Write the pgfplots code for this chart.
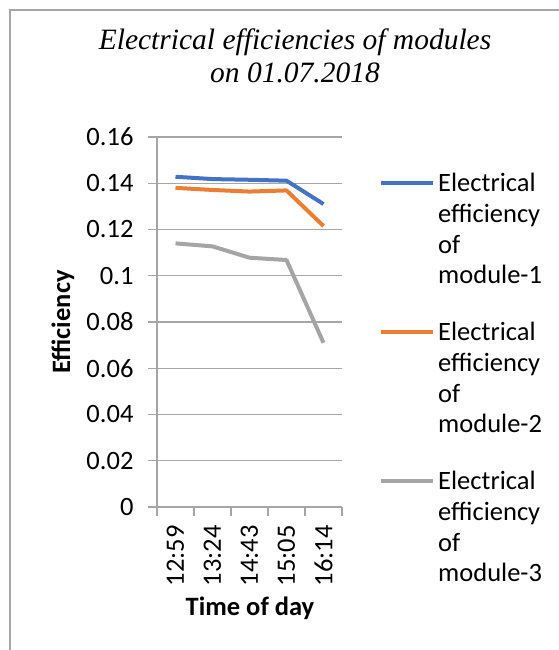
\documentclass[border=0pt]{standalone}
\usepackage{fontspec}
\setmainfont{Carlito}
\newfontfamily\timesfont{Liberation Serif}
\usepackage{pgfplots}
\pgfplotsset{compat=1.18}
\definecolor{s1}{HTML}{4472C4}
\definecolor{s2}{HTML}{ED7D31}
\definecolor{s3}{HTML}{A5A5A5}
\definecolor{gridc}{HTML}{A6A6A6}
\newcommand{\lblfont}{\fontsize{26.5}{30.7}\selectfont}
\begin{document}
\begin{tikzpicture}[x=1pt,y=1pt]
\useasboundingbox (0,0) rectangle (559,650);
\draw[gridc, line width=1.2pt] (10,0) -- (10,640) -- (559,640);
\node[font=\timesfont\itshape\fontsize{29.5}{33}\selectfont, align=center] at (295,594)
  {Electrical efficiencies of modules\\on 01.07.2018};
\begin{axis}[at={(157pt,143pt)}, anchor=south west,
  scale only axis, width=185pt, height=370pt,
  xmin=-0.5, xmax=4.5, ymin=0, ymax=0.16,
  axis x line=bottom, axis y line=left,
  axis line style={draw=gridc, line width=1.3pt, -},
  tick align=outside, major tick length=9pt,
  tick style={draw=gridc, line width=1.3pt},
  ymajorgrids, grid style={draw=gridc, line width=1.3pt},
  ytick={0,0.02,0.04,0.06,0.08,0.1,0.12,0.14,0.16},
  yticklabels={0,0.02,0.04,0.06,0.08,0.1,0.12,0.14,0.16},
  yticklabel style={xshift=-11pt},
  xtick={-0.5,0.5,1.5,2.5,3.5,4.5}, xticklabels={},
  extra x ticks={0,1,2,3,4},
  extra x tick labels={12:59,13:24,14:43,15:05,16:14},
  extra x tick style={major tick length=0pt, grid=none,
    xticklabel style={rotate=90, anchor=east, yshift=0pt, xshift=-15pt}},
  ticklabel style={font=\lblfont, /pgf/number format/assume math mode=true},
  xlabel={Time of day}, ylabel={Efficiency},
  every axis x label/.style={at={(250pt-157pt,0)}, anchor=center, yshift=-101pt,
    font=\lblfont\bfseries},
  every axis y label/.style={at={(0,0.5)}, rotate=90, anchor=center, yshift=94pt,
    font=\lblfont\bfseries},
  legend style={draw=none, fill=none, at={(1.184,0.908)}, anchor=north west,
    nodes={align=left, font=\lblfont, inner sep=0pt}, row sep=37pt, column sep=3pt},
  legend cell align=left,
  legend image code/.code={\path[draw=none, fill=none] (0pt,-46pt) -- (0pt,46pt);
    \draw[#1, line width=4pt] (0pt,46pt) -- (52pt,46pt);},
  every axis plot/.append style={line width=4pt, line join=round},
  clip=false,
]
\addplot[s1] coordinates {(0,0.1428) (1,0.1418) (2,0.1415) (3,0.1411) (4,0.1310)};
\addlegendentry{Electrical\\efficiency\\of\\module-1}
\addplot[s2] coordinates {(0,0.1380) (1,0.1371) (2,0.1364) (3,0.1369) (4,0.1215)};
\addlegendentry{Electrical\\efficiency\\of\\module-2}
\addplot[s3] coordinates {(0,0.1140) (1,0.1127) (2,0.1078) (3,0.1068) (4,0.0710)};
\addlegendentry{Electrical\\efficiency\\of\\module-3}
\end{axis}
\end{tikzpicture}
\end{document}
